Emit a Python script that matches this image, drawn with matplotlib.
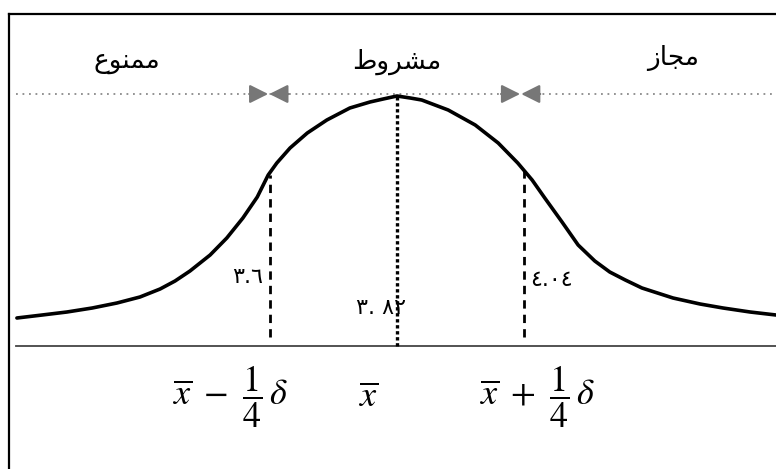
import numpy as np
import matplotlib.pyplot as plt
import matplotlib.lines as mlines

plt.rcParams['mathtext.fontset'] = 'stix'

# bell curve (x = score, y = relative height, peak = 1)
curve_x = [3.159, 3.203, 3.246, 3.290, 3.333, 3.373, 3.408, 3.434, 3.460,
           3.495, 3.524, 3.552, 3.577, 3.596, 3.611, 3.634, 3.664, 3.698,
           3.738, 3.773, 3.796, 3.82, 3.843, 3.863, 3.909, 3.956, 3.996,
           4.030, 4.055, 4.077, 4.107, 4.135, 4.164, 4.190, 4.217, 4.246,
           4.300, 4.347, 4.387, 4.434, 4.479]
curve_y = [0.112, 0.124, 0.136, 0.152, 0.172, 0.196, 0.228, 0.260, 0.300,
           0.364, 0.432, 0.512, 0.596, 0.684, 0.732, 0.792, 0.852, 0.904,
           0.952, 0.976, 0.988, 1.0, 0.992, 0.984, 0.944, 0.884, 0.812,
           0.732, 0.664, 0.592, 0.496, 0.404, 0.340, 0.296, 0.264, 0.232,
           0.192, 0.168, 0.152, 0.136, 0.124]

mean = 3.82
lower = 3.6
upper = 4.04
cut_heights = [0.684, 0.704]

# region names (shaped Arabic letters, visual order): forbidden, conditional, allowed
zone_labels = ['\uFEC9\uFEEE\uFEE8\uFEE4\uFEE3',
               '\uFEC1\uFEED\uFEAE\uFEB8\uFEE3',
               '\uFEAF\uFE8E\uFEA0\uFEE3']
value_labels = ['\u0663.\u0666', '\u0663. \u0668\u0662', '\u0664.\u0660\u0664']
axis_labels = [r'$\overline{x}\ -\ \dfrac{1}{4}\,\delta$', r'$\overline{x}$',
               r'$\overline{x}\ +\ \dfrac{1}{4}\,\delta$']

fig = plt.figure(figsize=(7.76, 4.69), dpi=100)
ax = fig.add_axes([0, 0, 1, 1])
ax.set_xlim(3.1296, 4.4791)
ax.set_ylim(-0.492, 1.384)
ax.axis('off')

# frame (left and top edges visible)
fig.add_artist(mlines.Line2D([9 / 776, 9 / 776], [0, 1 - 14 / 469], color='black', lw=1.6,
                             transform=fig.transFigure))
fig.add_artist(mlines.Line2D([9 / 776, 1], [1 - 14 / 469, 1 - 14 / 469], color='black', lw=1.6,
                             transform=fig.transFigure))

# base line and top dotted line
ax.plot([3.157, 4.4791], [0, 0], color='#444444', lw=1.3)
ax.plot([3.157, 4.4791], [1.008, 1.008], color='#8a8a8a', lw=1.3, linestyle=(0, (1, 2.6)))

# curve
ax.plot(curve_x, curve_y, color='black', lw=2.6, solid_capstyle='round',
        solid_joinstyle='round')

# cut lines
ax.plot([lower, lower], [0.036, cut_heights[0]], color='black', lw=2.0, linestyle=(0, (3, 2.2)))
ax.plot([upper, upper], [0.036, cut_heights[1]], color='black', lw=2.0, linestyle=(0, (3, 2.2)))
ax.plot([mean, mean], [0, 1.0], color='black', lw=2.4, linestyle=(0, (1, 0.8)))

# arrow pairs on the dotted line
astyle = '-|>,head_length=0.7,head_width=0.35'
for xc in [lower - 0.003, upper - 0.005]:
    d = 0.034
    ax.annotate('', xy=(xc - 0.001, 1.008), xytext=(xc - d, 1.008),
                arrowprops=dict(arrowstyle=astyle, color='#777777', lw=1.6, mutation_scale=16,
                                shrinkA=0, shrinkB=0))
    ax.annotate('', xy=(xc + 0.001, 1.008), xytext=(xc + d, 1.008),
                arrowprops=dict(arrowstyle=astyle, color='#777777', lw=1.6, mutation_scale=16,
                                shrinkA=0, shrinkB=0))

# zone names
for x, y, s in zip([3.350, 3.82, 4.30], [1.14, 1.136, 1.152], zone_labels):
    ax.text(x, y, s, ha='center', va='center', fontsize=19, family=['DejaVu Sans'])

# values
ax.text(lower - 0.012, 0.276, value_labels[0], ha='right', va='center', fontsize=16,
        family=['DejaVu Sans'])
ax.text(mean - 0.028, 0.152, value_labels[1], ha='center', va='center', fontsize=16,
        family=['DejaVu Sans'])
ax.text(upper + 0.012, 0.264, value_labels[2], ha='left', va='center', fontsize=16,
        family=['DejaVu Sans'])

# formulas under the axis
for x, s in zip([3.531, 3.771, 4.065], axis_labels):
    ax.text(x, -0.204, s, ha='center', va='center', fontsize=26)

fig.savefig('out.png', dpi=100)
